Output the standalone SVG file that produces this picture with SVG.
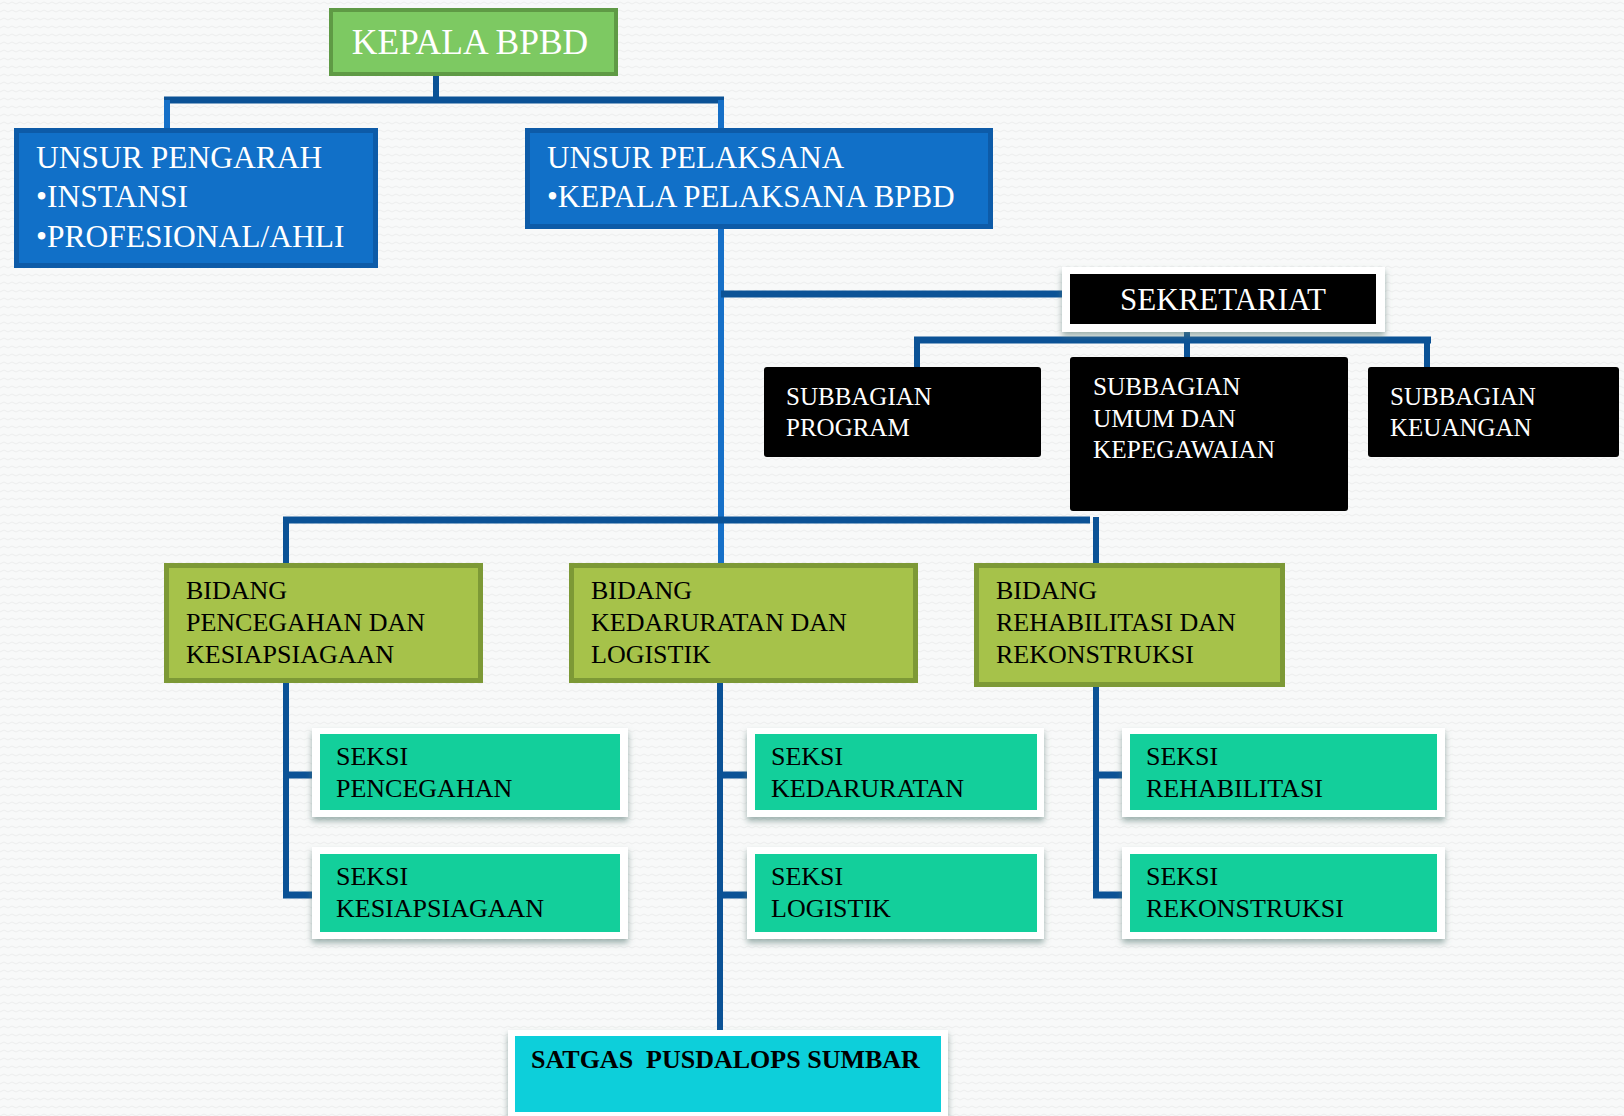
<svg xmlns="http://www.w3.org/2000/svg" width="1624" height="1116" viewBox="0 0 1624 1116">
<defs>
<filter id="sh" x="-10%" y="-20%" width="120%" height="150%">
<feDropShadow dx="0" dy="4" stdDeviation="3" flood-color="#5f7f78" flood-opacity="0.6"/>
</filter>
<pattern id="bg" width="8" height="8" patternUnits="userSpaceOnUse">
<rect width="8" height="8" fill="#f8f9f9"/>
<path d="M0 4 L4 2 L8 4" stroke="#eceeee" stroke-width="1" fill="none"/>
</pattern>
</defs>
<style>
text{font-family:"Liberation Serif","DejaVu Serif",serif}
.w{fill:#ffffff}
.k{fill:#000000}
.dark{stroke:#0b5296;fill:none}
.light{stroke:#1670c8;fill:none}
.v{stroke-width:6}
.h{stroke-width:7}
.bid{fill:#a6c24a;stroke:#7d9936;stroke-width:5}
.teal{fill:#13cf9b}
.white{fill:#ffffff}
.blk{fill:#000000}
.blue{fill:#1170c8;stroke:#0d5ba8;stroke-width:5}
</style>
<rect width="1624" height="1116" fill="url(#bg)"/>

<g id="connectors">
<line class="dark v" x1="436" y1="76" x2="436" y2="100"/>
<line class="dark h" x1="164" y1="100" x2="724" y2="100"/>
<line class="light v" x1="167" y1="100" x2="167" y2="130"/>
<line class="light v" x1="721" y1="100" x2="721" y2="130"/>
<line class="light v" x1="721" y1="228" x2="721" y2="563"/>
<line class="dark v" x1="720" y1="683" x2="720" y2="1030"/>
<line class="dark h" x1="721" y1="294" x2="1066" y2="294"/>
<line class="dark v" x1="1187" y1="324" x2="1187" y2="358"/>
<line class="dark h" x1="914" y1="340" x2="1431" y2="340"/>
<line class="dark v" x1="917" y1="340" x2="917" y2="368"/>
<line class="dark v" x1="1427" y1="340" x2="1427" y2="368"/>
<line class="dark h" x1="283" y1="520" x2="1090" y2="520"/>
<line class="dark v" x1="286" y1="517" x2="286" y2="564"/>
<line class="dark v" x1="1096" y1="517" x2="1096" y2="564"/>
<line class="dark v" x1="286" y1="683" x2="286" y2="898"/>
<line class="dark h" x1="283" y1="775" x2="316" y2="775"/>
<line class="dark h" x1="283" y1="895" x2="316" y2="895"/>
<line class="dark h" x1="720" y1="775" x2="751" y2="775"/>
<line class="dark h" x1="720" y1="895" x2="751" y2="895"/>
<line class="dark v" x1="1096" y1="687" x2="1096" y2="898"/>
<line class="dark h" x1="1093" y1="775" x2="1126" y2="775"/>
<line class="dark h" x1="1093" y1="895" x2="1126" y2="895"/>
</g>

<g id="kepala">
<rect x="331" y="10" width="285" height="64" fill="#7dc962" stroke="#5f9a45" stroke-width="4"/>
<text x="470" y="54" font-size="35.5" class="w" text-anchor="middle">KEPALA BPBD</text>
</g>

<g id="unsur-pengarah">
<rect x="16.5" y="130.5" width="359" height="135" class="blue"/>
<text font-size="31.5" class="w"><tspan x="36" y="168">UNSUR PENGARAH</tspan><tspan x="36" y="207">•INSTANSI</tspan><tspan x="36" y="247">•PROFESIONAL/AHLI</tspan></text>
</g>

<g id="unsur-pelaksana">
<rect x="527.5" y="130.5" width="463" height="96" class="blue"/>
<text font-size="31" class="w"><tspan x="547" y="168">UNSUR PELAKSANA</tspan><tspan x="547" y="207">•KEPALA PELAKSANA BPBD</tspan></text>
</g>

<g id="sekretariat">
<rect x="1062" y="267" width="323" height="65" class="white" filter="url(#sh)"/>
<rect x="1070" y="274" width="306" height="50" class="blk"/>
<text x="1223" y="310" font-size="31" class="w" text-anchor="middle">SEKRETARIAT</text>
</g>

<g id="subbagian-program">
<rect x="764" y="367" width="277" height="90" rx="3" class="blk"/>
<text font-size="25" class="w"><tspan x="786" y="405">SUBBAGIAN</tspan><tspan x="786" y="436">PROGRAM</tspan></text>
</g>

<g id="subbagian-umum">
<rect x="1070" y="357" width="278" height="154" rx="3" class="blk"/>
<text font-size="25.3" class="w"><tspan x="1093" y="395">SUBBAGIAN</tspan><tspan x="1093" y="427">UMUM DAN</tspan><tspan x="1093" y="458">KEPEGAWAIAN</tspan></text>
</g>

<g id="subbagian-keuangan">
<rect x="1368" y="367" width="251" height="90" rx="3" class="blk"/>
<text font-size="25" class="w"><tspan x="1390" y="405">SUBBAGIAN</tspan><tspan x="1390" y="436">KEUANGAN</tspan></text>
</g>

<g id="bidang-pencegahan">
<rect x="166.5" y="565.5" width="314" height="115" class="bid"/>
<text font-size="26" class="k"><tspan x="186" y="599">BIDANG</tspan><tspan x="186" y="631">PENCEGAHAN DAN</tspan><tspan x="186" y="663">KESIAPSIAGAAN</tspan></text>
</g>

<g id="bidang-kedaruratan">
<rect x="571.5" y="565.5" width="344" height="115" class="bid"/>
<text font-size="26" class="k"><tspan x="591" y="599">BIDANG</tspan><tspan x="591" y="631">KEDARURATAN DAN</tspan><tspan x="591" y="663">LOGISTIK</tspan></text>
</g>

<g id="bidang-rehabilitasi">
<rect x="976.5" y="565.5" width="306" height="119" class="bid"/>
<text font-size="26" class="k"><tspan x="996" y="599">BIDANG</tspan><tspan x="996" y="631">REHABILITASI DAN</tspan><tspan x="996" y="663">REKONSTRUKSI</tspan></text>
</g>

<g id="seksi-pencegahan">
<rect x="312" y="728" width="316" height="89" class="white" filter="url(#sh)"/>
<rect x="320" y="734" width="300" height="76" class="teal"/>
<text font-size="26" class="k"><tspan x="336" y="765">SEKSI</tspan><tspan x="336" y="797">PENCEGAHAN</tspan></text>
</g>

<g id="seksi-kesiapsiagaan">
<rect x="312" y="847" width="316" height="92" class="white" filter="url(#sh)"/>
<rect x="320" y="854" width="300" height="78" class="teal"/>
<text font-size="26" class="k"><tspan x="336" y="885">SEKSI</tspan><tspan x="336" y="917">KESIAPSIAGAAN</tspan></text>
</g>

<g id="seksi-kedaruratan">
<rect x="747" y="728" width="297" height="89" class="white" filter="url(#sh)"/>
<rect x="755" y="734" width="282" height="76" class="teal"/>
<text font-size="26" class="k"><tspan x="771" y="765">SEKSI</tspan><tspan x="771" y="797">KEDARURATAN</tspan></text>
</g>

<g id="seksi-logistik">
<rect x="747" y="847" width="297" height="92" class="white" filter="url(#sh)"/>
<rect x="755" y="854" width="282" height="78" class="teal"/>
<text font-size="26" class="k"><tspan x="771" y="885">SEKSI</tspan><tspan x="771" y="917">LOGISTIK</tspan></text>
</g>

<g id="seksi-rehabilitasi">
<rect x="1122" y="728" width="323" height="89" class="white" filter="url(#sh)"/>
<rect x="1130" y="734" width="307" height="76" class="teal"/>
<text font-size="26" class="k"><tspan x="1146" y="765">SEKSI</tspan><tspan x="1146" y="797">REHABILITASI</tspan></text>
</g>

<g id="seksi-rekonstruksi">
<rect x="1122" y="847" width="323" height="92" class="white" filter="url(#sh)"/>
<rect x="1130" y="854" width="307" height="78" class="teal"/>
<text font-size="26" class="k"><tspan x="1146" y="885">SEKSI</tspan><tspan x="1146" y="917">REKONSTRUKSI</tspan></text>
</g>

<g id="satgas">
<rect x="508" y="1030" width="440" height="90" class="white" filter="url(#sh)"/>
<rect x="515" y="1036" width="426" height="76" fill="#0dcfda"/>
<text x="531" y="1068" font-size="26" font-weight="bold" class="k" xml:space="preserve">SATGAS  PUSDALOPS SUMBAR</text>
</g>
</svg>
